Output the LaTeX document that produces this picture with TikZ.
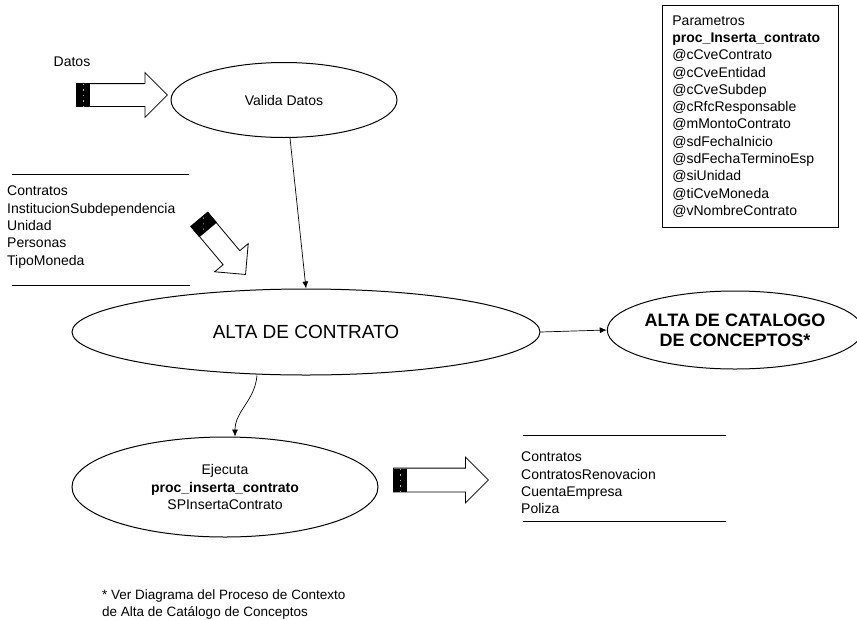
\documentclass[tikz,border=0pt]{standalone}
\usepackage{fontspec}
\setmainfont{Liberation Sans}
\usetikzlibrary{shapes.geometric, shapes.arrows, arrows.meta}

\begin{document}
\begin{tikzpicture}[x=1pt, y=-1pt,
    every node/.style={inner sep=0pt, font=\fontsize{14}{17.3}\selectfont},
    proceso/.style={ellipse, draw, line width=1pt},
    flujo/.style={-{Latex[length=7pt,width=6pt]}, line width=0.7pt},
    bloque/.style={single arrow, draw, fill=white, line width=0.8pt,
        single arrow head extend=11pt, minimum height=#1, anchor=tail},
    rayas/.style={rectangle, fill=black, minimum width=14pt, minimum height=23pt, anchor=west,
        path picture={\draw[white!70!black, line width=0.6pt, dash pattern=on 1.5pt off 4pt]
            (path picture bounding box.north) -- (path picture bounding box.south);}},
    tabla/.style={line width=0.8pt}]
    \useasboundingbox (0,0) rectangle (857,619);

    % datos de entrada
    \node (datos) at (72,62) {Datos};
    \node[bloque=91pt] (fd) at (76,95) {\rule{0pt}{22pt}};
    \node[rayas] at (fd.tail) {};

    \node[proceso, minimum width=226pt, minimum height=75pt] (valida) at (284,100) {Valida Datos};

    % tablas que se consultan
    \draw[tabla] (12,174) -- (189,174);
    \draw[tabla] (12,285) -- (190,285);
    \node[anchor=north west, align=left] (tablas) at (7,186)
        {Contratos\\InstitucionSubdependencia\\Unidad\\Personas\\TipoMoneda};
    \node[bloque=72pt, rotate=-50] (ft) at (199,219) {\rule{0pt}{21pt}};
    \node[rayas, rotate=-50] at (ft.tail) {};

    % parametros del procedimiento
    \node[draw, line width=0.8pt, anchor=north west, align=left, text width=156pt,
        inner xsep=10pt, minimum height=222pt] (param) at (662,5)
        {Parametros\\\textbf{proc\_Inserta\_contrato}\\@cCveContrato\\@cCveEntidad\\@cCveSubdep\\
         @cRfcResponsable\\@mMontoContrato\\@sdFechaInicio\\@sdFechaTerminoEsp\\@siUnidad\\
         @tiCveMoneda\\@vNombreContrato};

    % procesos
    \node[proceso, minimum width=468pt, minimum height=86pt, font=\fontsize{19}{23}\selectfont]
        (alta) at (306,332) {ALTA DE CONTRATO};
    \node[proceso, minimum width=242pt, minimum height=78pt, align=center,
        font=\bfseries\fontsize{18}{20}\selectfont] (catalogo) at (735,330)
        {ALTA DE CATALOGO\\DE CONCEPTOS*};
    \node[proceso, minimum width=306pt, minimum height=100pt, align=center] (ejecuta) at (225,487)
        {Ejecuta\\\textbf{proc\_inserta\_contrato}\\SPInsertaContrato};

    \draw[flujo] ([xshift=6pt]valida.south) -- (alta.north);
    \draw[flujo] (alta.east) -- (catalogo.west);
    \draw[flujo] ([xshift=-49pt]alta.south) to[out=-95, in=90] ([xshift=10pt]ejecuta.north);

    % tablas afectadas
    \node[bloque=95pt] (fs) at (393,480) {\rule{0pt}{23pt}};
    \node[rayas] at (fs.tail) {};
    \draw[tabla] (523,435) -- (726,435);
    \draw[tabla] (523,521) -- (726,521);
    \node[anchor=north west, align=left] (salida) at (521,452)
        {Contratos\\ContratosRenovacion\\CuentaEmpresa\\Poliza};

    \node[anchor=north west, align=left, font=\fontsize{13.5}{17}\selectfont] (nota) at (102,590)
        {* Ver Diagrama del Proceso de Contexto\\de Alta de Catálogo de Conceptos};
\end{tikzpicture}
\end{document}
